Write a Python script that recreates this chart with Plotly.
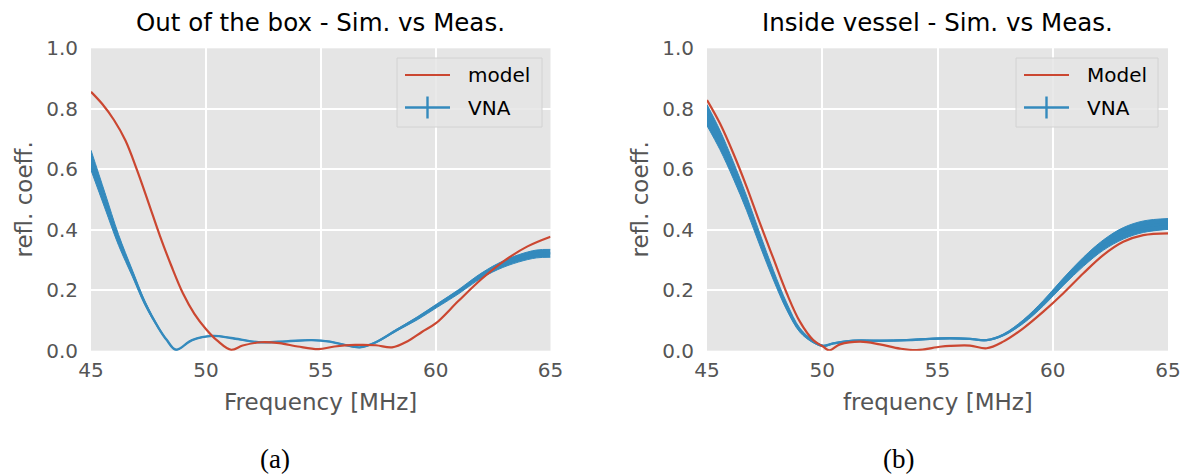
import plotly.graph_objects as go

# ---------------- data ----------------
# (a) Out of the box
a_model_f = [45.0, 45.5, 46.0, 46.5, 47.0, 47.5, 48.0, 48.5, 49.0, 49.5, 50.0, 50.5, 51.1, 51.6,
             52.4, 53.2, 54.0, 54.9, 55.6, 56.5, 57.4, 58.1, 58.8, 59.4, 60.0, 61.0, 62.0, 63.0,
             64.0, 65.0]
a_model_v = [0.856, 0.815, 0.763, 0.695, 0.598, 0.490, 0.380, 0.280, 0.190, 0.122, 0.072, 0.033,
             0.003, 0.017, 0.028, 0.025, 0.014, 0.005, 0.014, 0.019, 0.018, 0.011, 0.032, 0.062,
             0.090, 0.165, 0.237, 0.298, 0.345, 0.377]

a_vna_f = [45.0, 45.6, 46.2, 46.8, 47.35, 47.95, 48.3, 48.7, 49.4, 50.3, 51.1, 52.3, 53.5, 54.6,
           55.4, 56.0, 56.7, 57.4, 58.3, 59.2, 60.1, 61.0, 61.8, 62.7, 63.6, 64.4, 65.0]
a_vna_v = [0.630, 0.498, 0.366, 0.256, 0.157, 0.074, 0.035, 0.003, 0.035, 0.049, 0.042, 0.028,
           0.031, 0.035, 0.030, 0.020, 0.011, 0.028, 0.068, 0.107, 0.151, 0.195, 0.239, 0.278,
           0.305, 0.320, 0.322]
a_vna_err = [0.033, 0.026, 0.018, 0.011, 0.007, 0.003, 0.002, 0.001, 0.001, 0.001, 0.001, 0.001,
             0.001, 0.001, 0.001, 0.001, 0.001, 0.002, 0.003, 0.005, 0.006, 0.007, 0.008, 0.010,
             0.012, 0.013, 0.013]

# (b) Inside vessel
b_model_f = [45.0, 45.56, 46.14, 46.72, 47.3, 47.88, 48.46, 49.03, 49.61, 50.05, 50.3, 50.77,
             51.64, 52.5, 53.37, 54.1, 55.1, 55.54, 56.41, 57.13, 57.85, 58.72, 59.59, 60.46,
             61.33, 62.19, 63.06, 63.93, 65.0]
b_model_v = [0.829, 0.752, 0.653, 0.542, 0.421, 0.305, 0.190, 0.096, 0.035, 0.013, 0.001, 0.021,
             0.030, 0.021, 0.007, 0.002, 0.013, 0.016, 0.017, 0.008, 0.030, 0.074, 0.129, 0.190,
             0.256, 0.316, 0.360, 0.382, 0.388]

b_vna_f = [45.0, 45.56, 46.14, 46.72, 47.3, 47.88, 48.46, 49.03, 49.61, 50.05, 50.48, 51.35,
           52.5, 53.66, 54.67, 55.54, 56.41, 57.13, 57.85, 58.72, 59.59, 60.46, 61.33, 62.19,
           63.06, 63.93, 65.0]
b_vna_v = [0.779, 0.697, 0.597, 0.487, 0.366, 0.250, 0.146, 0.068, 0.030, 0.016, 0.024, 0.033,
           0.033, 0.035, 0.039, 0.041, 0.039, 0.035, 0.052, 0.096, 0.157, 0.228, 0.294, 0.349,
           0.388, 0.410, 0.419]
b_vna_err = [0.035, 0.032, 0.028, 0.024, 0.020, 0.016, 0.012, 0.007, 0.004, 0.002, 0.002, 0.002,
             0.002, 0.002, 0.002, 0.002, 0.002, 0.002, 0.003, 0.006, 0.009, 0.012, 0.015, 0.017,
             0.019, 0.019, 0.018]

x_ticks = [45, 50, 55, 60, 65]
y_ticks = [0.0, 0.2, 0.4, 0.6, 0.8, 1.0]

titles = ["Out of the box - Sim. vs Meas.", "Inside vessel - Sim. vs Meas."]
x_titles = ["Frequency [MHz]", "frequency [MHz]"]
y_title = "refl. coeff."
legend_names = [["model", "VNA"], ["Model", "VNA"]]
panel_labels = ["(a)", "(b)"]

# ---------------- style ----------------
W, H = 1189, 475
RED = "#CB4731"
BLUE = "#348ABD"
BG = "#E5E5E5"
GRAY_TXT = "#555555"
FONT = "DejaVu Sans"


def px(x):
    return x / W


def py(y):
    return 1 - y / H


# plot-area pixel boxes (left, right, top, bottom)
boxes = [(91, 550.5, 48.3, 350.7), (707, 1168, 48.3, 350.7)]

fig = go.Figure()

panels = [
    (a_model_f, a_model_v, a_vna_f, a_vna_v, a_vna_err),
    (b_model_f, b_model_v, b_vna_f, b_vna_v, b_vna_err),
]

for i, (mf, mv, vf, vv, ve) in enumerate(panels):
    xa = "x" if i == 0 else "x2"
    ya = "y" if i == 0 else "y2"
    lo = [v - e for v, e in zip(vv, ve)]
    hi = [v + e for v, e in zip(vv, ve)]
    fig.add_trace(go.Scatter(x=vf, y=lo, mode="lines", line=dict(color=BLUE, width=1, shape="spline"),
                             xaxis=xa, yaxis=ya, showlegend=False, hoverinfo="skip"))
    fig.add_trace(go.Scatter(x=vf, y=hi, mode="lines", line=dict(color=BLUE, width=1, shape="spline"),
                             fill="tonexty", fillcolor=BLUE, xaxis=xa, yaxis=ya, showlegend=False,
                             hoverinfo="skip"))
    fig.add_trace(go.Scatter(x=vf, y=vv, mode="lines", name=legend_names[i][1],
                             line=dict(color=BLUE, width=2.4, shape="spline"),
                             xaxis=xa, yaxis=ya, showlegend=False))
    fig.add_trace(go.Scatter(x=mf, y=mv, mode="lines", name=legend_names[i][0],
                             line=dict(color=RED, width=2.2, shape="spline"),
                             xaxis=xa, yaxis=ya, showlegend=False))

axis_common = dict(
    showgrid=True, gridcolor="white", gridwidth=2, zeroline=False, showline=False,
    ticks="outside", tickcolor="rgba(0,0,0,0)", automargin=False,
    tickfont=dict(family=FONT, size=20, color=GRAY_TXT),
)

layout = dict(
    width=W, height=H, margin=dict(l=0, r=0, t=0, b=0, autoexpand=False),
    paper_bgcolor="white", plot_bgcolor=BG, showlegend=False,
)
for i, (l, r, t, b) in enumerate(boxes):
    sx = "" if i == 0 else "2"
    layout["xaxis" + sx] = dict(axis_common, domain=[px(l), px(r)], range=[45, 65],
                                tickvals=x_ticks, ticktext=[str(v) for v in x_ticks],
                                ticklen=1, anchor="y" + sx)
    layout["yaxis" + sx] = dict(axis_common, domain=[py(b), py(t)], range=[0, 1],
                                tickvals=y_ticks, ticktext=["%.1f" % v for v in y_ticks],
                                ticklen=8, anchor="x" + sx)
fig.update_layout(**layout)

shapes = []
annotations = []
for i, (l, r, t, b) in enumerate(boxes):
    cx = (l + r) / 2
    # subplot title
    annotations.append(dict(text=titles[i], x=px(cx), y=py(23), xref="paper", yref="paper",
                            xanchor="center", yanchor="middle", showarrow=False,
                            font=dict(family=FONT, size=24.5, color="black")))
    # x axis title
    annotations.append(dict(text=x_titles[i], x=px(cx), y=py(402), xref="paper", yref="paper",
                            xanchor="center", yanchor="middle", showarrow=False,
                            font=dict(family=FONT, size=23, color=GRAY_TXT)))
    # y axis title
    annotations.append(dict(text=y_title, x=px(l - 67), y=py((t + b) / 2), xref="paper",
                            yref="paper", xanchor="center", yanchor="middle", textangle=-90,
                            showarrow=False, font=dict(family=FONT, size=23, color=GRAY_TXT)))
    # panel label
    annotations.append(dict(text=panel_labels[i], x=px([275, 898][i]), y=py(459), xref="paper",
                            yref="paper", xanchor="center", yanchor="middle", showarrow=False,
                            font=dict(family="Liberation Serif", size=27, color="black")))

# legends (drawn manually to show the errorbar glyph)
legend_boxes = [(397, 542), (1016, 1158)]
for i, (lx0, lx1) in enumerate(legend_boxes):
    shapes.append(dict(type="rect", xref="paper", yref="paper", x0=px(lx0), x1=px(lx1),
                       y0=py(127), y1=py(58), fillcolor="rgba(229,229,229,0.85)",
                       line=dict(color="#D2D2D2", width=1)))
    sx0 = lx0 + 8
    sx1 = sx0 + 45
    shapes.append(dict(type="line", xref="paper", yref="paper", x0=px(sx0), x1=px(sx1),
                       y0=py(75), y1=py(75), line=dict(color=RED, width=2.2)))
    shapes.append(dict(type="line", xref="paper", yref="paper", x0=px(sx0), x1=px(sx1),
                       y0=py(107.5), y1=py(107.5), line=dict(color=BLUE, width=2.4)))
    shapes.append(dict(type="line", xref="paper", yref="paper", x0=px((sx0 + sx1) / 2),
                       x1=px((sx0 + sx1) / 2), y0=py(96.5), y1=py(118.5),
                       line=dict(color=BLUE, width=2.4)))
    for j, yy in enumerate([75, 107.5]):
        annotations.append(dict(text=legend_names[i][j], x=px(sx1 + 16), y=py(yy), xref="paper",
                                yref="paper", xanchor="left", yanchor="middle", showarrow=False,
                                font=dict(family=FONT, size=20, color="black")))

fig.update_layout(shapes=shapes, annotations=annotations)
fig.write_html(
    "out.html",
    config={"displayModeBar": False},
    post_script="document.body.style.margin='0';document.body.style.overflow='hidden';",
)
